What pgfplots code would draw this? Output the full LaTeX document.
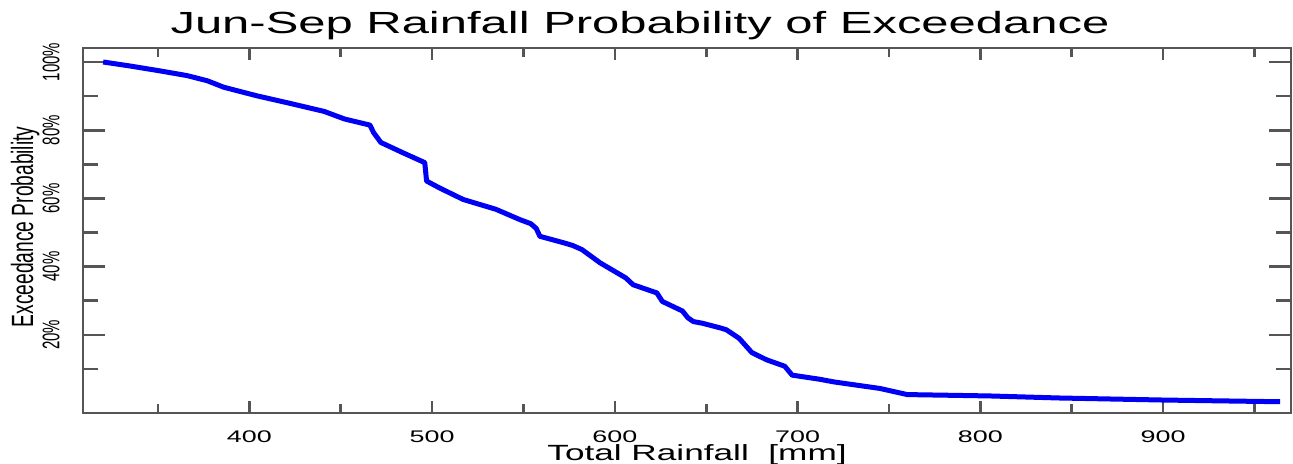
\documentclass[border=0pt]{standalone}
\usepackage{fontspec}
\setmainfont{Liberation Sans}
\newfontfamily\widefont[FakeStretch=1.6]{Liberation Sans}
\usepackage{pgfplots}
\pgfplotsset{compat=1.18}
\definecolor{axisgray}{RGB}{85,85,85}
\definecolor{curveblue}{RGB}{0,0,245}

\begin{document}
\begin{tikzpicture}
\useasboundingbox (0,0) rectangle (646.5pt,232pt);
\begin{axis}[
  at={(41.5pt,25.5pt)}, anchor=south west,
  scale only axis, width=604pt, height=182.5pt,
  xmin=309, xmax=970, ymin=-2.9, ymax=104.1,
  axis line style={axisgray, line width=1.3pt},
  xtick={400,500,...,900},
  minor xtick={350,450,...,950},
  ytick={20,40,...,100},
  minor ytick={10,30,...,90},
  tick style={axisgray, line width=1.3pt},
  tick align=inside,
  xtick style={/pgfplots/major tick length=6pt, /pgfplots/minor tick length=4.5pt},
  ytick style={/pgfplots/major tick length=11pt, /pgfplots/minor tick length=7.5pt},
  xticklabel={\pgfmathprintnumber[assume math mode=true]{\tick}},
  xticklabel style={font=\widefont\fontsize{8.4}{10}\selectfont, anchor=north, inner sep=0pt, yshift=-8.5pt},
  yticklabel={\scalebox{1}[1.6]{\pgfmathprintnumber[assume math mode=true]{\tick}\%}},
  yticklabel style={font=\fontsize{7.5}{9}\selectfont, xshift=-11.5pt, rotate=90, anchor=south, inner sep=0pt},
  title={Jun-Sep Rainfall Probability of Exceedance},
  every axis title/.style={font=\widefont\fontsize{15.3}{18}\selectfont, at={(rel axis cs:0.5,1)}, anchor=base, yshift=7pt, xshift=-23.5pt, inner sep=0pt},
  xlabel={Total Rainfall\ \ [mm]},
  every axis x label/.style={font=\widefont\fontsize{11}{13}\selectfont, at={(rel axis cs:0.5,0)}, anchor=base, yshift=-24pt, xshift=5pt, inner sep=0pt},
  ylabel={\scalebox{1}[1.6]{Exceedance Probability}},
  every axis y label/.style={font=\fontsize{9.6}{11}\selectfont, at={(rel axis cs:0,0.51)}, xshift=-25pt, rotate=90, anchor=base, inner sep=0pt},
]
\addplot[curveblue, line width=2.5pt, line join=round] coordinates {
  (320,100.0) (335,98.8) (351,97.4) (366,96.0) (377,94.5) (386,92.6)
  (404,90.1) (422,87.9) (441,85.5) (452,83.3) (466,81.5) (468,79.3)
  (472,76.4) (484,73.4) (496,70.5) (497,65.1) (504,63.1) (517,59.7)
  (535,56.8) (548,53.8) (554,52.6) (557,51.2) (559,48.9) (572,47.0)
  (577,46.2) (582,45.0) (592,41.1) (606,36.7) (610,34.7) (623,32.3)
  (626,29.8) (637,27.0) (640,25.0) (643,23.9) (648,23.4) (658,22.0)
  (661,21.5) (668,19.0) (675,14.8) (683,12.7) (693,10.8) (697,8.2)
  (712,7.0) (720,6.2) (745,4.3) (760,2.5) (805,2.1) (843,1.5)
  (900,0.9) (964,0.4)
};
\end{axis}
\end{tikzpicture}
\end{document}
